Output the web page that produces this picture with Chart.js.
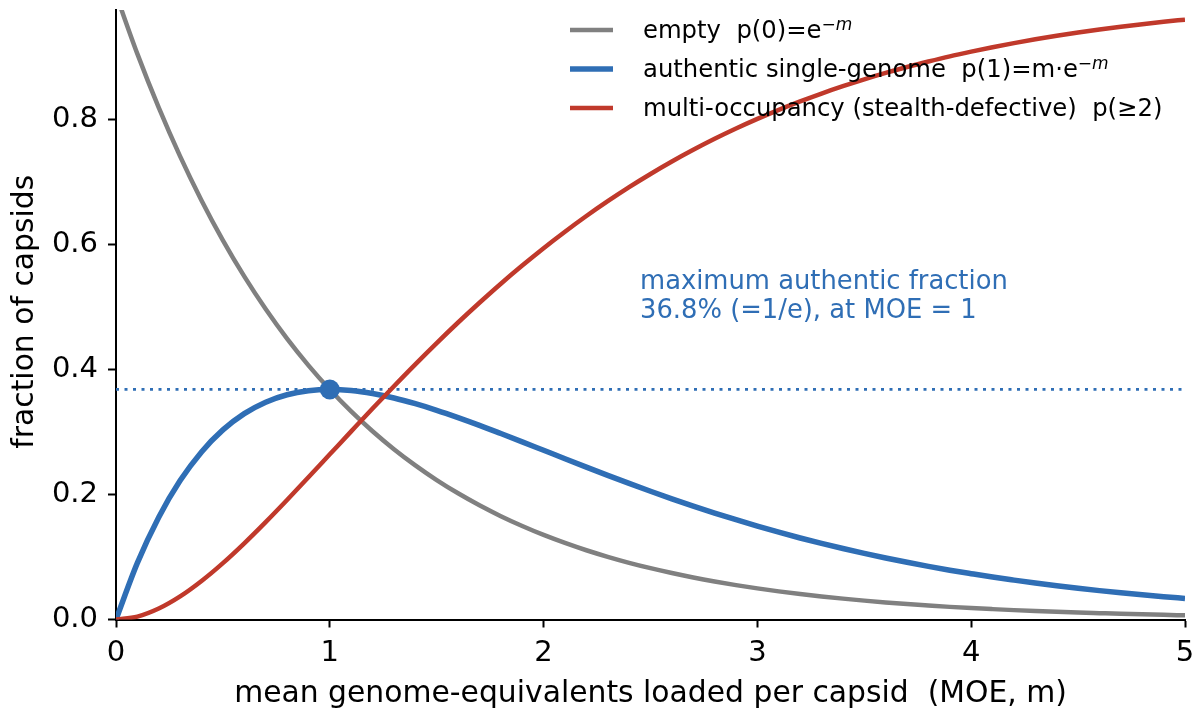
<!DOCTYPE html>
<html lang="en">
<head>
<meta charset="UTF-8">
<title>Capsid occupancy vs MOE</title>
<script src="https://cdn.jsdelivr.net/npm/chart.js"></script>
<style>
    html, body { margin: 0; padding: 0; background: #fff; }
    #wrap { width: 1202px; height: 716px; }
</style>
</head>
<body>
<div id="wrap"><canvas id="chart" width="1202" height="716"></canvas></div>
<script>
    // mean genome-equivalents per capsid (MOE, m)
    const moe = [0.0, 0.1, 0.2, 0.3, 0.4, 0.5, 0.6, 0.7, 0.8, 0.9,
                 1.0, 1.1, 1.2, 1.3, 1.4, 1.5, 1.6, 1.7, 1.8, 1.9,
                 2.0, 2.1, 2.2, 2.3, 2.4, 2.5, 2.6, 2.7, 2.8, 2.9,
                 3.0, 3.1, 3.2, 3.3, 3.4, 3.5, 3.6, 3.7, 3.8, 3.9,
                 4.0, 4.1, 4.2, 4.3, 4.4, 4.5, 4.6, 4.7, 4.8, 4.9, 5.0];
    // fraction of capsids
    const pEmpty  = [1.0000, 0.9048, 0.8187, 0.7408, 0.6703, 0.6065, 0.5488, 0.4966, 0.4493, 0.4066,
                     0.3679, 0.3329, 0.3012, 0.2725, 0.2466, 0.2231, 0.2019, 0.1827, 0.1653, 0.1496,
                     0.1353, 0.1225, 0.1108, 0.1003, 0.0907, 0.0821, 0.0743, 0.0672, 0.0608, 0.0550,
                     0.0498, 0.0450, 0.0408, 0.0369, 0.0334, 0.0302, 0.0273, 0.0247, 0.0224, 0.0202,
                     0.0183, 0.0166, 0.0150, 0.0136, 0.0123, 0.0111, 0.0101, 0.0091, 0.0082, 0.0074, 0.0067];
    const pSingle = [0.0000, 0.0905, 0.1637, 0.2222, 0.2681, 0.3033, 0.3293, 0.3476, 0.3595, 0.3659,
                     0.3679, 0.3662, 0.3614, 0.3543, 0.3452, 0.3347, 0.3230, 0.3106, 0.2975, 0.2842,
                     0.2707, 0.2572, 0.2438, 0.2306, 0.2177, 0.2052, 0.1931, 0.1815, 0.1703, 0.1596,
                     0.1494, 0.1397, 0.1304, 0.1217, 0.1135, 0.1057, 0.0984, 0.0915, 0.0850, 0.0789,
                     0.0733, 0.0679, 0.0630, 0.0583, 0.0540, 0.0500, 0.0462, 0.0427, 0.0395, 0.0365, 0.0337];
    const pMulti  = [0.0000, 0.0047, 0.0175, 0.0369, 0.0616, 0.0902, 0.1219, 0.1558, 0.1912, 0.2275,
                     0.2642, 0.3009, 0.3374, 0.3732, 0.4082, 0.4422, 0.4751, 0.5067, 0.5372, 0.5662,
                     0.5940, 0.6203, 0.6454, 0.6691, 0.6916, 0.7127, 0.7326, 0.7513, 0.7689, 0.7854,
                     0.8008, 0.8153, 0.8288, 0.8414, 0.8531, 0.8641, 0.8743, 0.8838, 0.8926, 0.9009,
                     0.9084, 0.9155, 0.9220, 0.9281, 0.9337, 0.9389, 0.9437, 0.9482, 0.9523, 0.9561, 0.9596];
    const peakX = [1];
    const peakY = [0.368];
    const refX = [0, 5];
    const refY = [0.368, 0.368];
    const xTicks = [0, 1, 2, 3, 4, 5];
    const yTicks = [0, 0.2, 0.4, 0.6, 0.8];

    const GREY = "#808080";
    const BLUE = "#2f6eb5";
    const RED = "#c0392b";
    const FONT = "'DejaVu Sans', sans-serif";

    const pts = (xs, ys) => xs.map((x, i) => ({ x: x, y: ys[i] }));

    const legendItems = [
        { color: GREY, width: 4.5, text: "empty  p(0)=e", sup: true },
        { color: BLUE, width: 5.5, text: "authentic single-genome  p(1)=m\u00b7e", sup: true },
        { color: RED,  width: 4.5, text: "multi-occupancy (stealth-defective)  p(\u22652)", sup: false }
    ];

    // titles, legend and the annotation are drawn on top of the chart
    const decor = {
        id: "decor",
        afterDraw(chart) {
            const ctx = chart.ctx;
            const area = chart.chartArea;
            ctx.save();
            ctx.fillStyle = "#000";

            // axis titles
            ctx.font = "29.8px " + FONT;
            ctx.textAlign = "center";
            ctx.textBaseline = "alphabetic";
            ctx.fillText("mean genome-equivalents loaded per capsid  (MOE, m)", (area.left + area.right) / 2, 702);
            ctx.save();
            ctx.translate(33, (area.top + area.bottom) / 2 - 3);
            ctx.rotate(-Math.PI / 2);
            ctx.fillText("fraction of capsids", 0, 0);
            ctx.restore();

            // legend
            ctx.textAlign = "left";
            legendItems.forEach((item, i) => {
                const base = 38 + i * 39;
                ctx.strokeStyle = item.color;
                ctx.lineWidth = item.width;
                ctx.beginPath();
                ctx.moveTo(570, base - 8);
                ctx.lineTo(613, base - 8);
                ctx.stroke();
                ctx.fillStyle = "#000";
                ctx.font = "24.3px " + FONT;
                ctx.fillText(item.text, 643, base);
                if (item.sup) {
                    let x = 643 + ctx.measureText(item.text).width;
                    ctx.font = "17px " + FONT;
                    ctx.fillText("\u2212", x, base - 8);
                    x += ctx.measureText("\u2212").width;
                    ctx.font = "italic 17px " + FONT;
                    ctx.fillText("m", x, base - 8);
                }
            });

            // annotation
            ctx.fillStyle = BLUE;
            ctx.font = "25.8px " + FONT;
            ctx.fillText("maximum authentic fraction", 640, 289);
            ctx.fillText("36.8% (=1/e), at MOE = 1", 640, 317.5);
            ctx.restore();
        }
    };

    new Chart(document.getElementById("chart").getContext("2d"), {
        type: "line",
        data: {
            datasets: [
                { label: "peak", data: pts(peakX, peakY), showLine: false, pointRadius: 10,
                  pointBackgroundColor: BLUE, pointBorderWidth: 0, order: 0 },
                { label: "multi", data: pts(moe, pMulti), borderColor: RED, borderWidth: 4.5,
                  pointRadius: 0, cubicInterpolationMode: "monotone", order: 1 },
                { label: "single", data: pts(moe, pSingle), borderColor: BLUE, borderWidth: 5.5,
                  pointRadius: 0, cubicInterpolationMode: "monotone", order: 2 },
                { label: "empty", data: pts(moe, pEmpty), borderColor: GREY, borderWidth: 4.5,
                  pointRadius: 0, cubicInterpolationMode: "monotone", order: 3 },
                { label: "1/e", data: pts(refX, refY), borderColor: BLUE, borderWidth: 2.7,
                  borderDash: [3, 5.5], pointRadius: 0, order: 4 }
            ]
        },
        options: {
            responsive: false,
            animation: false,
            devicePixelRatio: 1,
            layout: { padding: { top: 9, right: 17, left: 0, bottom: 0 } },
            plugins: { legend: { display: false }, tooltip: { enabled: false } },
            scales: {
                x: {
                    type: "linear", min: 0, max: 5,
                    afterBuildTicks: s => { s.ticks = xTicks.map(v => ({ value: v })); },
                    afterFit: s => { s.height = 96.5; s.paddingLeft = 0; s.paddingRight = 0; },
                    ticks: { color: "#000", font: { family: FONT, size: 29 }, padding: 9,
                             maxRotation: 0, callback: v => String(v) },
                    grid: { drawOnChartArea: false, drawTicks: true, tickLength: 8, tickWidth: 2, color: "#000" },
                    border: { display: true, color: "#000", width: 2 }
                },
                y: {
                    type: "linear", min: 0, max: 0.975,
                    afterBuildTicks: s => { s.ticks = yTicks.map(v => ({ value: v })); },
                    afterFit: s => { s.width = 116; s.paddingTop = 0; s.paddingBottom = 0; },
                    ticks: { color: "#000", font: { family: FONT, size: 29 }, padding: 10,
                             callback: v => v.toFixed(1) },
                    grid: { drawOnChartArea: false, drawTicks: true, tickLength: 8, tickWidth: 2, color: "#000" },
                    border: { display: true, color: "#000", width: 2 }
                }
            }
        },
        plugins: [decor]
    });
</script>
</body>
</html>
